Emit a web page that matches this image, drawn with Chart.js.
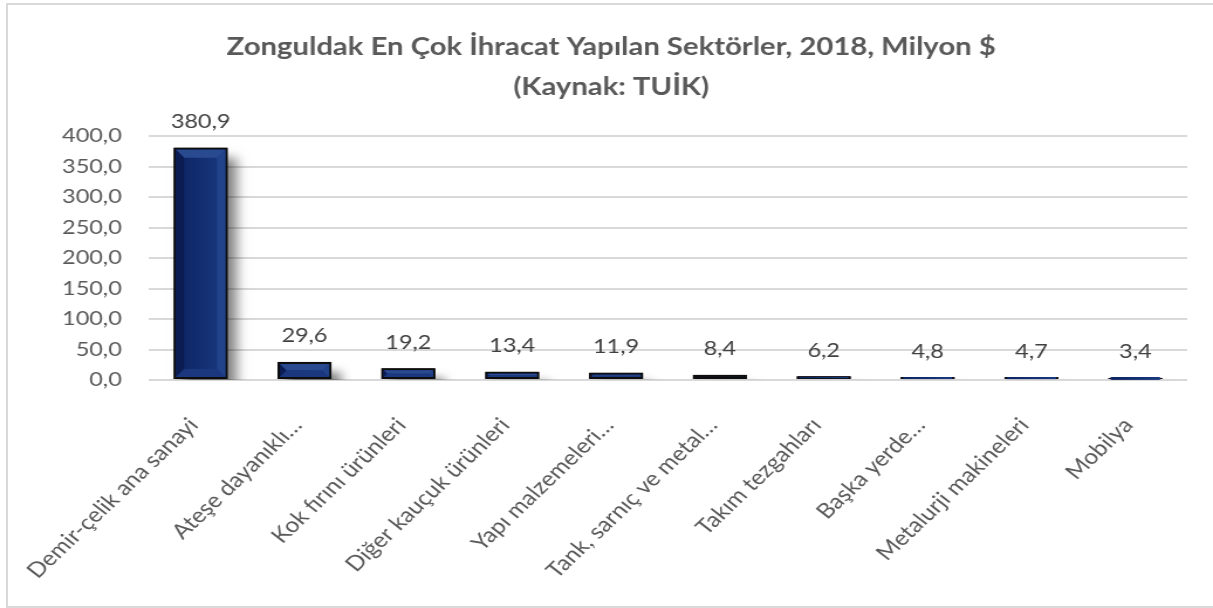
<!DOCTYPE html>
<html lang="tr">
<head>
<meta charset="utf-8">
<title>Zonguldak En Çok İhracat Yapılan Sektörler, 2018</title>
<script src="https://cdn.jsdelivr.net/npm/chart.js@4"></script>
<style>
  html, body { margin: 0; padding: 0; background: #fff; overflow: hidden; }
  #frame { position: absolute; left: 6px; top: 3px; width: 1300px; height: 605px; box-sizing: border-box; border: 2px solid #d9d9d9; }
  #chart { position: absolute; left: 0; top: 0; }
</style>
</head>
<body>
<div id="frame"></div>
<!-- canvas is drawn narrower and widened by css, gives the wide text look -->
<canvas id="chart" width="1036" height="608" style="width:1213px;height:608px"></canvas>
<script>
const sectors = [
  'Demir-çelik ana sanayi',
  'Ateşe dayanıklı…',
  'Kok fırını ürünleri',
  'Diğer kauçuk ürünleri',
  'Yapı malzemeleri…',
  'Tank, sarnıç ve metal…',
  'Takım tezgahları',
  'Başka yerde…',
  'Metalurji makineleri',
  'Mobilya'
];
const exportValues = [380.9, 29.6, 19.2, 13.4, 11.9, 8.4, 6.2, 4.8, 4.7, 3.4];
const yTickValues = [0, 50, 100, 150, 200, 250, 300, 350, 400];

const fmt = v => Number(v).toFixed(1).replace('.', ',');
const FONT = 'Lato';

// soft drop shadow behind each bar
const barShadow = {
  id: 'barShadow',
  beforeDatasetsDraw(chart) {
    const { ctx, chartArea } = chart;
    const meta = chart.getDatasetMeta(0);
    ctx.save();
    ctx.beginPath();
    ctx.rect(chartArea.left, chartArea.top - 40, chartArea.width, chartArea.bottom - chartArea.top + 40);
    ctx.clip();
    ctx.shadowColor = 'rgba(0,0,0,0.5)';
    ctx.shadowBlur = 10;
    ctx.shadowOffsetX = 8;
    ctx.shadowOffsetY = 10;
    ctx.fillStyle = '#0d0d0d';
    meta.data.forEach(bar => {
      const { x, y, base, width } = bar.getProps(['x', 'y', 'base', 'width'], true);
      ctx.fillRect(x - width / 2, y, width, base - y);
    });
    ctx.restore();
  }
};

function poly(ctx, pts, color) {
  ctx.beginPath();
  ctx.moveTo(pts[0][0], pts[0][1]);
  for (let i = 1; i < pts.length; i++) ctx.lineTo(pts[i][0], pts[i][1]);
  ctx.closePath();
  ctx.fillStyle = color;
  ctx.fill();
}

function bevel(ctx, x0, y0, x1, y1) {
  const by = Math.min(8, (y1 - y0) / 2, (x1 - x0) / 4);
  const bx = by * 0.86;
  const face = ctx.createLinearGradient(x0, 0, x1, 0);
  face.addColorStop(0, '#0c2462');
  face.addColorStop(1, '#1a3980');
  ctx.fillStyle = face;
  ctx.fillRect(x0, y0, x1 - x0, y1 - y0);
  if (by <= 0) return;
  poly(ctx, [[x0, y0], [x1, y0], [x1 - bx, y0 + by], [x0 + bx, y0 + by]], '#2a4a90');
  poly(ctx, [[x0, y0], [x0 + bx, y0 + by], [x0 + bx, y1 - by], [x0, y1]], '#0a1c52');
  poly(ctx, [[x1, y0], [x1, y1], [x1 - bx, y1 - by], [x1 - bx, y0 + by]], '#22438a');
  poly(ctx, [[x0, y1], [x0 + bx, y1 - by], [x1 - bx, y1 - by], [x1, y1]], '#1b387e');
}

// bevelled face + value labels
const barDecor = {
  id: 'barDecor',
  afterDatasetsDraw(chart) {
    const { ctx } = chart;
    const meta = chart.getDatasetMeta(0);
    const bw = 2;
    ctx.save();
    meta.data.forEach((bar, i) => {
      const { x, y, base, width } = bar.getProps(['x', 'y', 'base', 'width'], true);
      bevel(ctx, x - width / 2 + bw, y + bw, x + width / 2 - bw, base - bw);
      ctx.fillStyle = '#404040';
      ctx.font = '20px ' + FONT;
      ctx.textAlign = 'center';
      ctx.textBaseline = 'middle';
      ctx.fillText(fmt(exportValues[i]), x, y - 26);
    });
    ctx.restore();
  }
};

new Chart(document.getElementById('chart'), {
  type: 'bar',
  data: {
    labels: sectors,
    datasets: [{
      data: exportValues,
      backgroundColor: '#12306f',
      borderColor: '#0d0d0d',
      borderWidth: 2,
      borderSkipped: false,
      categoryPercentage: 1,
      barPercentage: 0.52
    }]
  },
  options: {
    responsive: false,
    animation: false,
    layout: { padding: { left: 30, right: 22, top: 0, bottom: 0 } },
    plugins: {
      legend: { display: false },
      tooltip: { enabled: false },
      title: {
        display: true,
        text: ['Zonguldak En Çok İhracat Yapılan Sektörler, 2018, Milyon $', '(Kaynak: TUİK)'],
        color: '#595959',
        font: { family: FONT, size: 25, weight: 'bold', lineHeight: 40 / 25 },
        padding: { top: 27, bottom: 29 }
      }
    },
    scales: {
      x: {
        grid: { display: false },
        border: { display: false },
        ticks: {
          color: '#595959',
          font: { family: FONT, size: 21 },
          minRotation: 48,
          maxRotation: 48,
          autoSkip: false,
          labelOffset: -6,
          padding: 25
        },
        afterFit(scale) { scale.height = 228; }
      },
      y: {
        min: 0,
        max: 400,
        afterBuildTicks(scale) { scale.ticks = yTickValues.map(v => ({ value: v })); },
        grid: { color: '#d9d9d9', lineWidth: 2, drawTicks: false },
        border: { display: false },
        ticks: {
          color: '#595959',
          font: { family: FONT, size: 20 },
          padding: 23,
          callback: v => fmt(v)
        },
        afterFit(scale) { scale.width = 97; }
      }
    }
  },
  plugins: [barShadow, barDecor]
});
</script>
</body>
</html>
